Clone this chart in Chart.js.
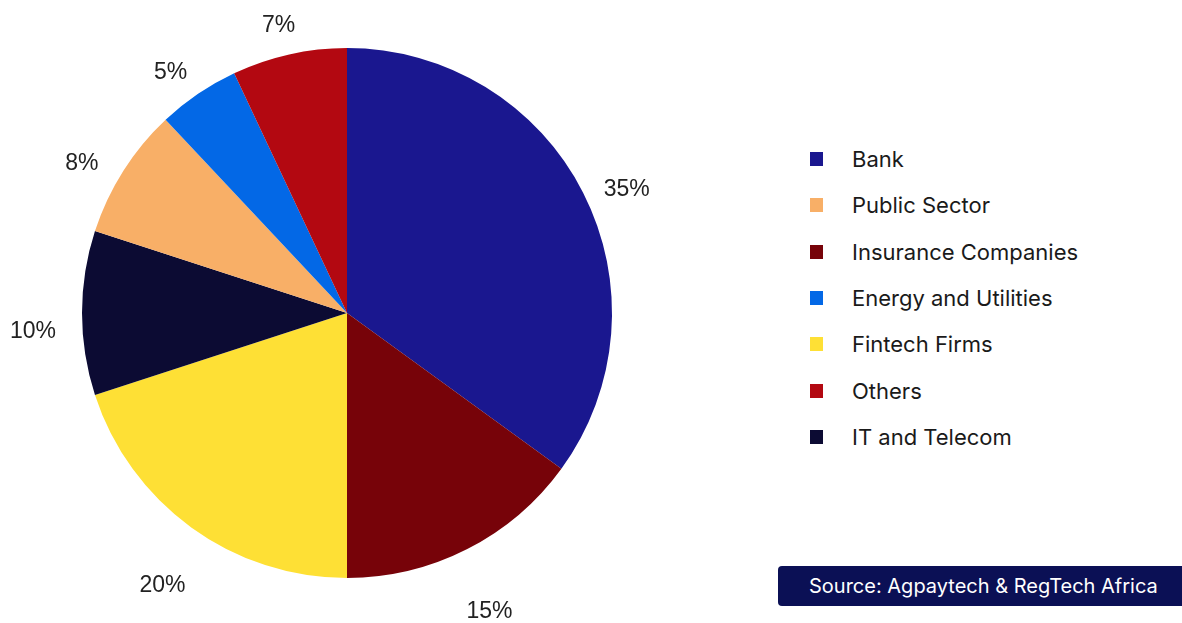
<!DOCTYPE html>
<html>
<head>
<meta charset="utf-8">
<script src="https://cdn.jsdelivr.net/npm/chart.js@4.4.1/dist/chart.umd.min.js"></script>
<style>
  html, body { margin: 0; padding: 0; background: #fff; }
  body { width: 1182px; height: 623px; position: relative; overflow: hidden; }
  #wrap { position: absolute; left: 0; top: 0; width: 694px; height: 623px; }
  #legend { position: absolute; left: 810px; top: 136px; font-family: Inter, "Open Sans", sans-serif; font-size: 22px; color: #1a1a1a; }
  .item { height: 46.33px; display: flex; align-items: center; }
  .box { width: 13px; height: 14px; margin-right: 29px; }
  #source { position: absolute; left: 778px; top: 566px; width: 410px; height: 40px; border-radius: 4px;
    background: #0b1055; color: #fff; font-family: Inter, "Open Sans", sans-serif; font-size: 20px;
    line-height: 40px; box-sizing: border-box; padding-left: 31px; }
</style>
</head>
<body>
<div id="wrap"><canvas id="pieChart"></canvas></div>
<div id="legend"></div>
<div id="source">Source: Agpaytech &amp; RegTech Africa</div>
<script>
// slices, clockwise from 12 o'clock
const categories = ['Bank', 'Insurance Companies', 'Fintech Firms', 'IT and Telecom', 'Public Sector', 'Energy and Utilities', 'Others'];
const shares = [35, 15, 20, 10, 8, 5, 7];
const sliceColors = ['#1a178f', '#770309', '#fee035', '#0c0b33', '#f8af67', '#0368e6', '#b30811'];
// legend is listed in a different order than the slices
const legendOrder = ['Bank', 'Public Sector', 'Insurance Companies', 'Energy and Utilities', 'Fintech Firms', 'Others', 'IT and Telecom'];

const outsideLabels = {
    id: 'outsideLabels',
    afterDatasetsDraw(chart) {
        const { ctx } = chart;
        const meta = chart.getDatasetMeta(0);
        ctx.save();
        ctx.font = '23px "Liberation Sans", Arial, sans-serif';
        ctx.fillStyle = '#222';
        ctx.textAlign = 'center';
        ctx.textBaseline = 'middle';
        meta.data.forEach((arc, i) => {
            const p = arc.getProps(['x', 'y', 'startAngle', 'endAngle', 'outerRadius'], true);
            const mid = (p.startAngle + p.endAngle) / 2;
            const r = p.outerRadius + 49;
            // labels sit a bit below the radial point
            ctx.fillText(shares[i] + '%', p.x + Math.cos(mid) * r, p.y + 19 + Math.sin(mid) * r);
        });
        ctx.restore();
    }
};

const ctx = document.getElementById('pieChart').getContext('2d');
const pieChart = new Chart(ctx, {
    type: 'pie',
    data: {
        labels: categories,
        datasets: [{ data: shares, backgroundColor: sliceColors, borderWidth: 0 }]
    },
    options: {
        animation: false,
        responsive: true,
        maintainAspectRatio: false,
        layout: { padding: { top: 48, bottom: 45 } },
        plugins: {
            legend: { display: false },
            tooltip: { enabled: false }
        }
    },
    plugins: [outsideLabels]
});

// html legend, built from chart's own legend items
const items = Chart.overrides.pie.plugins.legend.labels.generateLabels(pieChart);
items.sort((a, b) => legendOrder.indexOf(a.text) - legendOrder.indexOf(b.text));
const legendEl = document.getElementById('legend');
items.forEach(it => {
    const row = document.createElement('div');
    row.className = 'item';
    const box = document.createElement('span');
    box.className = 'box';
    box.style.background = it.fillStyle;
    const txt = document.createElement('span');
    txt.textContent = it.text;
    row.appendChild(box);
    row.appendChild(txt);
    legendEl.appendChild(row);
});
</script>
</body>
</html>
